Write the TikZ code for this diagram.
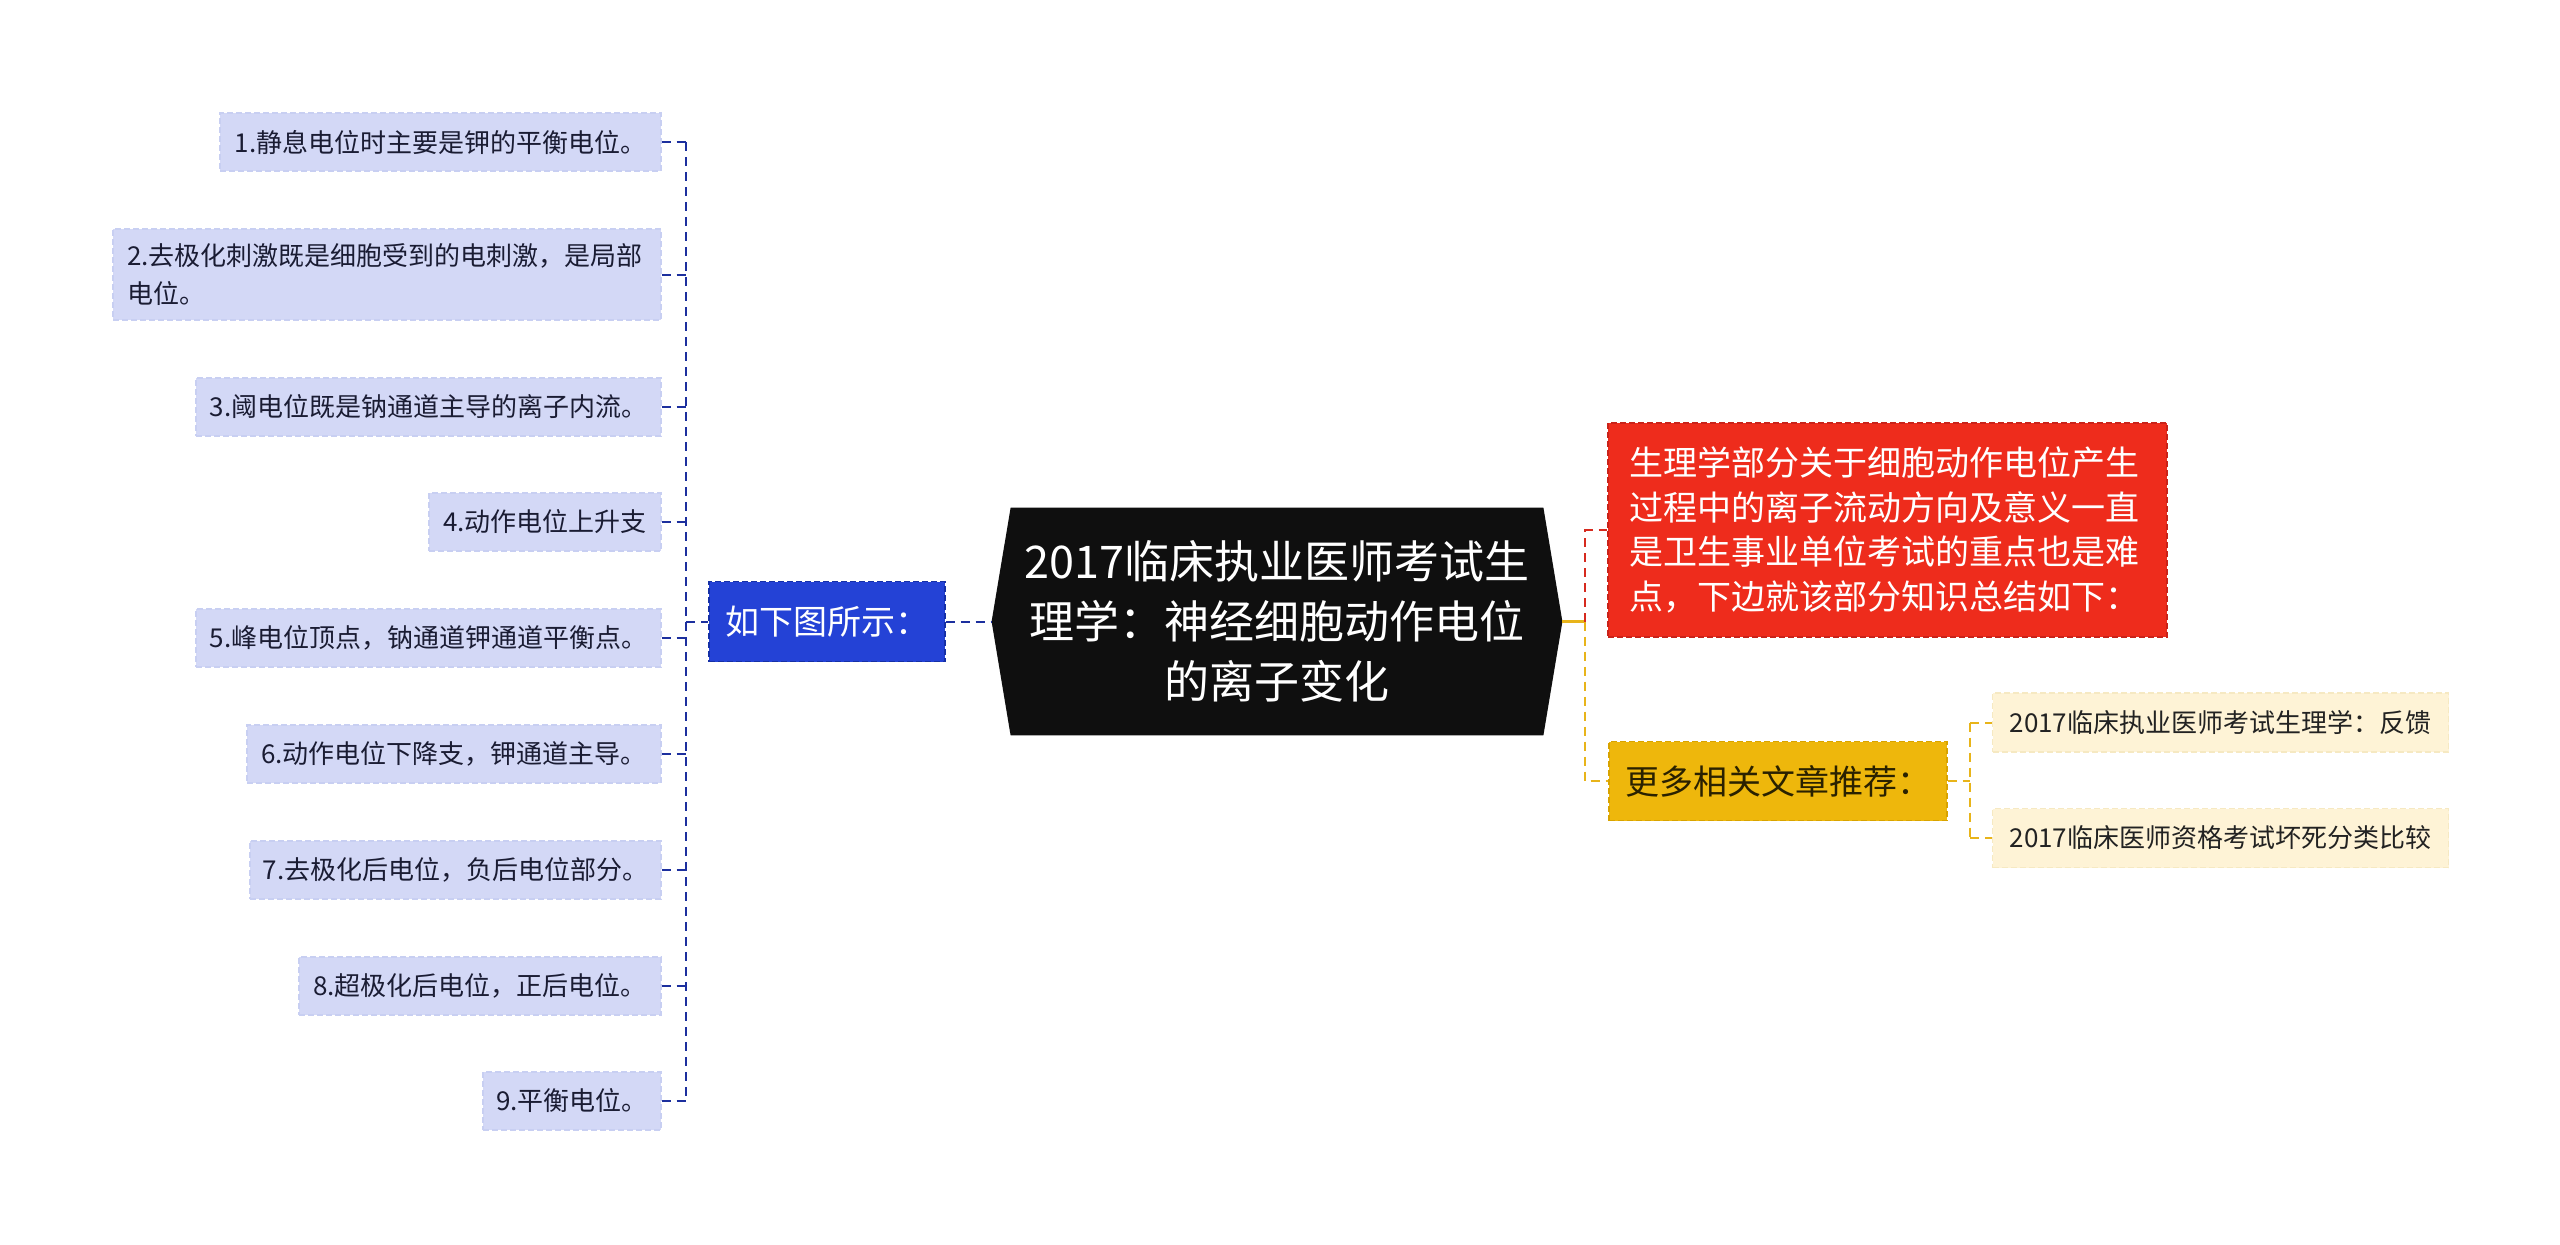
\documentclass[tikz,border=0pt]{standalone}
\usepackage{fontspec}
\setmainfont{Noto Sans CJK SC}
\usetikzlibrary{backgrounds}
\definecolor{leaffill}{HTML}{D3D8F6}
\definecolor{leafline}{HTML}{C8CFF2}
\definecolor{leaftext}{HTML}{1A1C33}
\definecolor{bluefill}{HTML}{2442D6}
\definecolor{blueline}{HTML}{1630A6}
\definecolor{bluecon}{HTML}{1C2F9E}
\definecolor{hubfill}{HTML}{0F0F0F}
\definecolor{redfill}{HTML}{EE2C1C}
\definecolor{redline}{HTML}{C9231A}
\definecolor{redcon}{HTML}{D62A1E}
\definecolor{yelfill}{HTML}{EEB70C}
\definecolor{yelline}{HTML}{D8A300}
\definecolor{yelcon}{HTML}{E8B41A}
\definecolor{yeltext}{HTML}{2A2100}
\definecolor{creamfill}{HTML}{FEF3D6}
\definecolor{creamline}{HTML}{F6E9C2}
\definecolor{creamtext}{HTML}{222222}
\begin{document}
\begin{tikzpicture}[x=0.5pt,y=-0.5pt,
  box/.style={rectangle, inner sep=0pt, line width=0.6pt, dash pattern=on 3pt off 1.5pt},
  leaf/.style={box, fill=leaffill, draw=leafline, text=leaftext,
    font=\fontsize{13pt}{18.75pt}\selectfont, minimum height=29pt},
  cream/.style={box, fill=creamfill, draw=creamline, text=creamtext,
    font=\fontsize{13pt}{18.75pt}\selectfont, minimum height=29.5pt, minimum width=228pt},
  bluebox/.style={box, fill=bluefill, draw=blueline, text=white,
    font=\fontsize{17pt}{22pt}\selectfont},
  redbox/.style={box, fill=redfill, draw=redline, text=white,
    font=\fontsize{17pt}{22.3pt}\selectfont},
  yelbox/.style={box, fill=yelfill, draw=yelline, text=yeltext,
    font=\fontsize{17pt}{22pt}\selectfont},
  hub/.style={rectangle, inner sep=0pt, text=white, align=center,
    font=\fontsize{22.5pt}{30pt}\selectfont, minimum width=266pt, minimum height=113.5pt},
  con/.style={line width=1pt, dash pattern=on 4.5pt off 3pt},
  bcon/.style={con, draw=bluecon},
  rcon/.style={con, draw=redcon},
  ycon/.style={con, draw=yelcon}]
\begin{scope}[on background layer]
\fill[white] (0,0) rectangle (2560,1244);
\end{scope}
\useasboundingbox (0,0) rectangle (2560,1244);

% central topic
\node[hub] (c) at (1277,621.5) {2017临床执业医师考试生\\理学：神经细胞动作电位\\的离子变化};
\coordinate (ctl) at ([xshift=-9.5pt]c.west);
\coordinate (ctr) at ([xshift=9.5pt]c.east);
\begin{scope}[on background layer]
\fill[hubfill] (ctl) -- (c.north west) -- (c.north east) -- (ctr) -- (c.south east) -- (c.south west) -- cycle;
\end{scope}

% left branch
\node[bluebox, minimum width=118pt, minimum height=40pt] (b) at (827,621.5) {如下图所示：};

\node[leaf, minimum width=220.5pt] (l1) at (440.5,142) {1.静息电位时主要是钾的平衡电位。};
\node[leaf, minimum width=274pt, minimum height=45.5pt, text width=260pt, align=left] (l2) at (387,274.5) {2.去极化刺激既是细胞受到的电刺激，是局部\\电位。};
\node[leaf, minimum width=232.5pt] (l3) at (428.5,407) {3.阈电位既是钠通道主导的离子内流。};
\node[leaf, minimum width=116pt] (l4) at (545,522) {4.动作电位上升支};
\node[leaf, minimum width=232.5pt] (l5) at (428.5,638) {5.峰电位顶点，钠通道钾通道平衡点。};
\node[leaf, minimum width=207pt] (l6) at (454,754) {6.动作电位下降支，钾通道主导。};
\node[leaf, minimum width=205.5pt] (l7) at (455.5,870) {7.去极化后电位，负后电位部分。};
\node[leaf, minimum width=181pt] (l8) at (480,986) {8.超极化后电位，正后电位。};
\node[leaf, minimum width=89pt] (l9) at (572,1101) {9.平衡电位。};

\coordinate (lb) at (686,621.5);
\draw[bcon] (l1.east -| lb) -- (l9.east -| lb);
\foreach \i in {1,...,9} \draw[bcon] (l\i.east) -- (l\i.east -| lb);
\draw[bcon] (lb) -- (b.west);
\draw[bcon] (b.east) -- (ctl);

% right branch
\node[redbox, minimum width=279.5pt, minimum height=107pt, text width=258pt, align=left] (r) at (1887.5,530) {生理学部分关于细胞动作电位产生\\过程中的离子流动方向及意义一直\\是卫生事业单位考试的重点也是难\\点，下边就该部分知识总结如下：};
\node[yelbox, minimum width=169pt, minimum height=39.5pt] (yl) at (1778,781) {更多相关文章推荐：};
\node[cream] (k1) at (2220.5,722.5) {2017临床执业医师考试生理学：反馈};
\node[cream] (k2) at (2220.5,838) {2017临床医师资格考试坏死分类比较};

\coordinate (rb) at (1585,621.5);
\draw[line width=1.2pt, draw=yelcon] (ctr) -- (rb);
\draw[rcon] (rb) -- (rb |- r.west) -- (r.west);
\draw[ycon] (rb) -- (rb |- yl.west) -- (yl.west);

\coordinate (kb) at (1970,781);
\draw[ycon] (yl.east) -- (kb);
\draw[ycon] (kb |- k1.west) -- (kb |- k2.west);
\draw[ycon] (kb |- k1.west) -- (k1.west);
\draw[ycon] (kb |- k2.west) -- (k2.west);
\end{tikzpicture}
\end{document}
